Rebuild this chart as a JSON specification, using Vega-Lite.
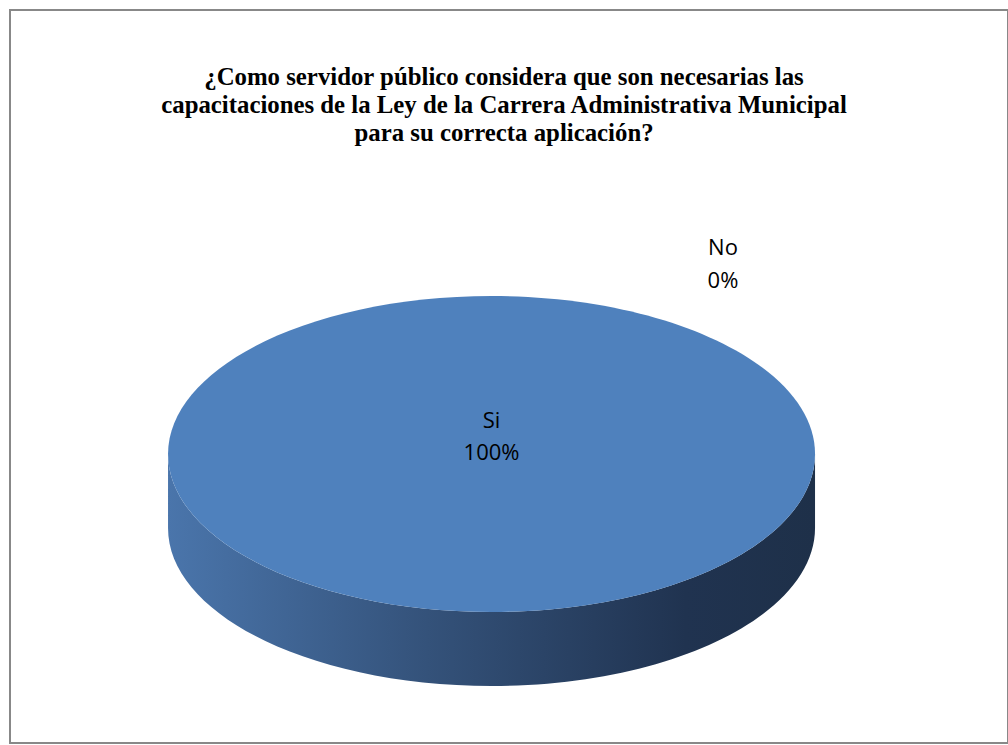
{
  "$schema": "https://vega.github.io/schema/vega-lite/v6.json",
  "width": 1008,
  "height": 745,
  "autosize": {"type": "fit", "contains": "padding"},
  "padding": {"left": 10, "top": 10, "right": 0, "bottom": 2},
  "background": "white",
  "config": {"view": {"stroke": "#888888", "strokeWidth": 2}},
  "data": {
    "values": [
      {"respuesta": "Si", "proporcion": 1},
      {"respuesta": "No", "proporcion": 0}
    ]
  },
  "layer": [
    {
      "transform": [{"filter": "datum.respuesta === 'Si'"}],
      "mark": {
        "type": "point",
        "shape": "M-1,0 L-1,0.2287 C-1,0.4984 -0.5523,0.7171 0,0.7171 C0.5523,0.7171 1,0.4984 1,0.2287 L1,0 C1,0.2697 0.5523,0.4884 0,0.4884 C-0.5523,0.4884 -1,0.2697 -1,0 Z",
        "filled": true,
        "opacity": 1,
        "strokeWidth": 0,
        "fill": {
          "gradient": "linear",
          "x1": 0, "y1": 0, "x2": 1, "y2": 0,
          "stops": [
            {"offset": 0, "color": "#4a75ab"},
            {"offset": 0.4, "color": "#34527a"},
            {"offset": 0.8, "color": "#203350"},
            {"offset": 1, "color": "#1e3049"}
          ]
        }
      },
      "encoding": {
        "x": {"datum": 0.4825, "type": "quantitative", "scale": {"domain": [0, 1], "nice": false, "zero": false}, "axis": null},
        "y": {"datum": 0.6057, "type": "quantitative", "scale": {"domain": [0, 1], "reverse": true, "nice": false, "zero": false}, "axis": null},
        "size": {"value": 418609}
      }
    },
    {
      "transform": [{"filter": "datum.respuesta === 'Si'"}],
      "mark": {
        "type": "point",
        "shape": "M-1,0 C-1,-0.2697 -0.5523,-0.4884 0,-0.4884 C0.5523,-0.4884 1,-0.2697 1,0 C1,0.2697 0.5523,0.4884 0,0.4884 C-0.5523,0.4884 -1,0.2697 -1,0 Z",
        "filled": true,
        "opacity": 1,
        "strokeWidth": 0,
        "fill": "#4f81bd"
      },
      "encoding": {
        "x": {"datum": 0.4825, "type": "quantitative"},
        "y": {"datum": 0.6057, "type": "quantitative"},
        "size": {"value": 418609}
      }
    },
    {
      "transform": [{"filter": "datum.respuesta === 'Si'"}],
      "mark": {"type": "text", "font": "Open Sans", "fontSize": 22, "color": "#000000", "align": "center", "baseline": "alphabetic"},
      "encoding": {
        "x": {"datum": 0.4825, "type": "quantitative"},
        "y": {"datum": 0.5703, "type": "quantitative"},
        "text": {"field": "respuesta"}
      }
    },
    {
      "transform": [{"filter": "datum.respuesta === 'Si'"}],
      "mark": {"type": "text", "font": "Open Sans", "fontSize": 22, "color": "#000000", "align": "center", "baseline": "alphabetic"},
      "encoding": {
        "x": {"datum": 0.4825, "type": "quantitative"},
        "y": {"datum": 0.6139, "type": "quantitative"},
        "text": {"field": "proporcion", "type": "quantitative", "format": ".0%"}
      }
    },
    {
      "transform": [{"filter": "datum.respuesta === 'No'"}],
      "mark": {"type": "text", "font": "Open Sans", "fontSize": 22, "color": "#000000", "align": "center", "baseline": "alphabetic"},
      "encoding": {
        "x": {"datum": 0.7144, "type": "quantitative"},
        "y": {"datum": 0.3342, "type": "quantitative"},
        "text": {"field": "respuesta"}
      }
    },
    {
      "transform": [{"filter": "datum.respuesta === 'No'"}],
      "mark": {"type": "text", "font": "Open Sans", "fontSize": 22, "color": "#000000", "align": "center", "baseline": "alphabetic"},
      "encoding": {
        "x": {"datum": 0.7144, "type": "quantitative"},
        "y": {"datum": 0.3793, "type": "quantitative"},
        "text": {"field": "proporcion", "type": "quantitative", "format": ".0%"}
      }
    },
    {
      "data": {"values": [{"titulo": "¿Como servidor público considera que son necesarias las capacitaciones de la Ley de la Carrera Administrativa Municipal para su correcta aplicación?"}]},
      "mark": {
        "type": "text",
        "text": [
          "¿Como servidor público considera que son necesarias las",
          "capacitaciones de la Ley de la Carrera Administrativa Municipal",
          "para su correcta aplicación?"
        ],
        "font": "Liberation Serif",
        "fontSize": 24.8,
        "fontWeight": "bold",
        "color": "#000000",
        "align": "center",
        "baseline": "alphabetic",
        "lineHeight": 28
      },
      "encoding": {
        "x": {"datum": 0.495, "type": "quantitative"},
        "y": {"datum": 0.1023, "type": "quantitative"}
      }
    }
  ]
}
